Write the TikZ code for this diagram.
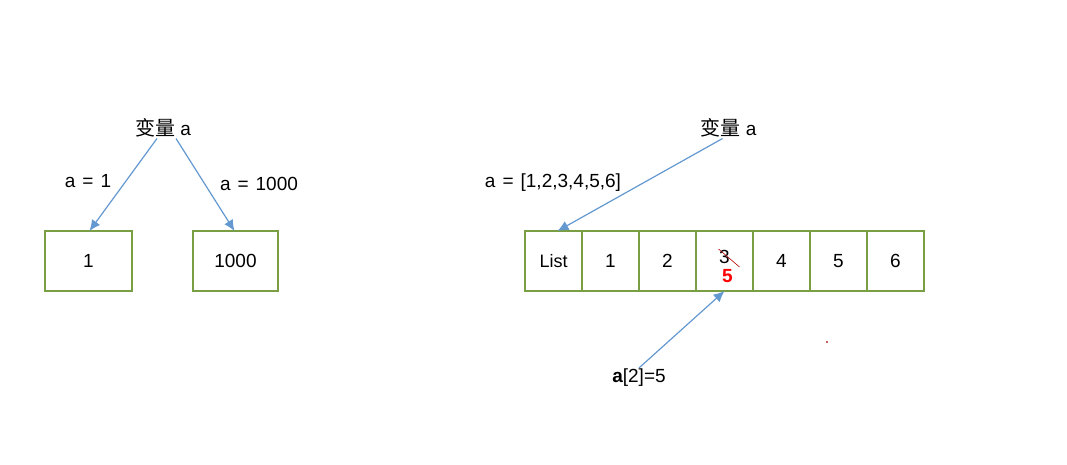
\documentclass[tikz,border=0pt]{standalone}
\usepackage{fontspec}
\setmainfont{Liberation Sans}
\newfontfamily\cjk{Noto Sans CJK SC}
\usepackage[]{tikz}
\usepackage[dvipsnames]{xcolor}
\usetikzlibrary{arrows.meta}
\usetikzlibrary{positioning}
\definecolor{boxgreen}{RGB}{122,158,68}
\definecolor{arrowblue}{RGB}{99,152,208}
\newcommand{\eqsp}{\hspace{7pt}}
\tikzset{cell/.style = {draw = boxgreen, line width = 1.1, inner sep = 0, outer sep = 0, minimum width = 57, minimum height = 60, font = \fontsize{19}{22}\selectfont}}
\tikzset{ptr/.style = {draw = arrowblue, line width = 1.2, -{Latex[length = 11, width = 10]}}}
\tikzset{lbl/.style = {inner sep = 1, font = \fontsize{19}{22}\selectfont}}

\begin{document}
\begin{tikzpicture}[x = 1pt, y = -1pt]
            \useasboundingbox [] (0,0) rectangle (1067,464);
            % single values
            \node [lbl] (varA) at (163,128) {{\cjk\fontsize{20}{22}\selectfont 变量} a};
            \node [lbl] (eqone) at (88,181) {a\eqsp=\eqsp1};
            \node [lbl] (eqthousand) at (259,184) {a\eqsp=\eqsp1000};
            \node [cell, minimum width = 87] (one) at (88.5,261) {1};
            \node [cell, minimum width = 85] (thousand) at (235.5,261) {1000};
            \draw [ptr] ([xshift = -6]varA.south) -- ([xshift = 1]one.north);
            \draw [ptr] ([xshift = 13]varA.south) -- ([xshift = -1]thousand.north);
            % list
            \node [lbl] (varB) at (728.5,128) {{\cjk\fontsize{20}{22}\selectfont 变量} a};
            \node [lbl] (eqlist) at (553,183) {a\eqsp=\eqsp[1,2,3,4,5,6]};
            \node [cell, font = \fontsize{18}{22}\selectfont] (list) at (553.5,261) {List};
            \node [cell, right = 0pt of list] (c1) {1};
            \node [cell, right = 0pt of c1] (c2) {2};
            \node [cell, right = 0pt of c2] (c3) {};
            \node [cell, right = 0pt of c3] (c4) {4};
            \node [cell, right = 0pt of c4] (c5) {5};
            \node [cell, right = 0pt of c5] (c6) {6};
            \node [lbl] (old) at ([yshift = 4]c3.center) {3};
            \node [lbl, text = red, font = \fontsize{19}{22}\selectfont\bfseries] (new) at ([xshift = 3, yshift = -15]c3.center) {5};
            \draw [red!70!black, line width = 0.6] ([xshift = -6, yshift = 8]old.center) -- ([xshift = 15, yshift = -10]old.center);
            \node [lbl] (assign) at (639,378) {{\bfseries a}[2]=5};
            \draw [ptr] ([xshift = -6]varB.south) -- ([xshift = 4]list.north);
            \draw [ptr] (assign.north) -- (c3.south);
            \filldraw [red!60!black] (827,342) circle (0.6pt);

        \end{tikzpicture}
\end{document}
